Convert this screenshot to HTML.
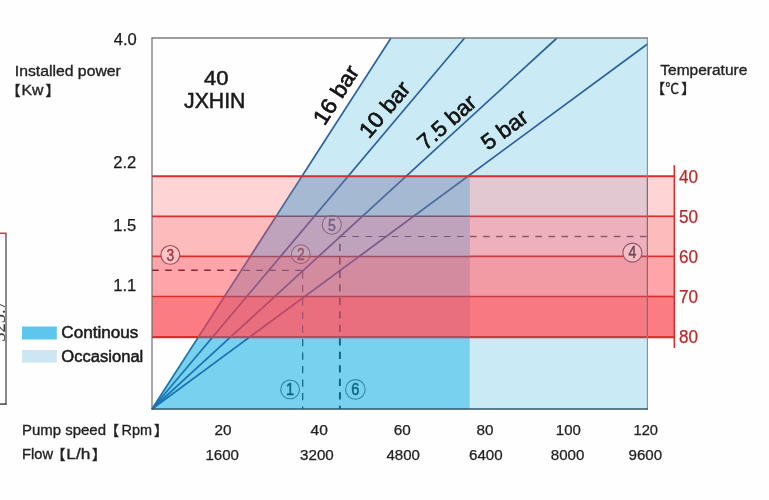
<!DOCTYPE html>
<html>
<head>
<meta charset="utf-8">
<title>Pump chart</title>
<style>
html,body{margin:0;padding:0;background:#fefefe;}
body{width:769px;height:500px;overflow:hidden;position:relative;}
svg{position:absolute;left:0;top:0;display:block;}
text{font-family:"Liberation Sans","Noto Sans CJK SC",sans-serif;}
.k{fill:#1a1a1a;stroke:#1a1a1a;stroke-width:.5;}
.ax{font-size:16.6px;fill:#1a1a1a;stroke:#1a1a1a;stroke-width:.25;}
.lb{font-size:14px;fill:#222;stroke:#222;stroke-width:.32;}
.num{font-size:14px;fill:#222;stroke:#222;stroke-width:.25;}
.bar{font-size:22px;fill:#111;stroke:#111;stroke-width:.6;}
.tmp{font-size:17.6px;fill:#b42c2c;stroke:#b42c2c;stroke-width:.25;}
.cn{font-size:16.4px;text-anchor:middle;stroke-width:.5;}
</style>
</head>
<body>
<svg width="769" height="500" viewBox="0 0 769 500">
  <rect x="0" y="0" width="769" height="500" fill="#fefefe"/>

  <defs>
    <linearGradient id="lg" gradientUnits="userSpaceOnUse" x1="0" y1="38" x2="0" y2="409">
      <stop offset="0" stop-color="#2c629c"/>
      <stop offset="0.8" stop-color="#2c5ea0"/>
      <stop offset="0.82" stop-color="#1874b0"/>
      <stop offset="1" stop-color="#1874b0"/>
    </linearGradient>
    <clipPath id="cOut"><rect x="140" y="30" width="520" height="146.3"/><rect x="140" y="337.2" width="520" height="80"/></clipPath>
    <clipPath id="cB1"><rect x="140" y="176.3" width="520" height="40"/></clipPath>
    <clipPath id="cB2"><rect x="140" y="216.3" width="520" height="40.1"/></clipPath>
    <clipPath id="cB3"><rect x="140" y="256.4" width="520" height="40.1"/></clipPath>
    <clipPath id="cB4"><rect x="140" y="296.5" width="520" height="40.7"/></clipPath>
  </defs>
  <!-- occasional (light blue) area -->
  <polygon points="152,409 391,38 647.5,38 647.5,409" fill="#caebf5"/>
  <!-- continuous (blue) area -->
  <polygon points="152,409 301.9,176.3 469.7,176.3 469.7,409" fill="#77d1ef"/>

  <!-- temperature bands -->
  <rect x="152" y="176.3" width="522.3" height="40" fill="#ff8f8f" fill-opacity="0.375"/>
  <rect x="152" y="216.3" width="522.3" height="40.1" fill="#ff7676" fill-opacity="0.49"/>
  <rect x="152" y="256.4" width="522.3" height="40.1" fill="#ff7176" fill-opacity="0.63"/>
  <rect x="152" y="296.5" width="522.3" height="41" fill="#fc6a72" fill-opacity="0.88"/>

  <!-- bands over the occasional zone -->
  <rect x="469.7" y="176.3" width="177.8" height="40" fill="#e1c8d1"/>
  <rect x="469.7" y="216.3" width="177.8" height="40.1" fill="#eeb0ba"/>
  <rect x="469.7" y="256.4" width="177.8" height="40.1" fill="#f29ba5"/>
  <rect x="469.7" y="296.5" width="177.8" height="41" fill="#f97983"/>

  <!-- bands over the continuous zone -->
  <polygon points="301.9,176.3 469.7,176.3 469.7,216.3 276.1,216.3" fill="#a5b9d3"/>
  <polygon points="276.1,216.3 469.7,216.3 469.7,256.4 250.3,256.4" fill="#bfa3bc"/>
  <polygon points="250.3,256.4 469.7,256.4 469.7,296.5 224.5,296.5" fill="#d38c9f"/>
  <polygon points="224.5,296.5 469.7,296.5 469.7,337.5 198.1,337.5" fill="#ea6f7e"/>

  <!-- pressure lines -->
  <g stroke="url(#lg)" stroke-width="1.7" fill="none" clip-path="url(#cOut)"><line x1="152" y1="409" x2="391" y2="38"/><line x1="152" y1="409" x2="464.6" y2="38"/><line x1="152" y1="409" x2="557" y2="38"/><line x1="152" y1="409" x2="647.5" y2="44"/></g>
  <g stroke="#4a6a9c" stroke-width="1.7" fill="none" clip-path="url(#cB1)"><line x1="152" y1="409" x2="391" y2="38"/><line x1="152" y1="409" x2="464.6" y2="38"/><line x1="152" y1="409" x2="557" y2="38"/><line x1="152" y1="409" x2="647.5" y2="44"/></g>
  <g stroke="#7a5a8a" stroke-width="1.7" fill="none" clip-path="url(#cB2)"><line x1="152" y1="409" x2="391" y2="38"/><line x1="152" y1="409" x2="464.6" y2="38"/><line x1="152" y1="409" x2="557" y2="38"/><line x1="152" y1="409" x2="647.5" y2="44"/></g>
  <g stroke="#8c5888" stroke-width="1.7" fill="none" clip-path="url(#cB3)"><line x1="152" y1="409" x2="391" y2="38"/><line x1="152" y1="409" x2="464.6" y2="38"/><line x1="152" y1="409" x2="557" y2="38"/><line x1="152" y1="409" x2="647.5" y2="44"/></g>
  <g stroke="#b84a68" stroke-width="1.7" fill="none" clip-path="url(#cB4)"><line x1="152" y1="409" x2="391" y2="38"/><line x1="152" y1="409" x2="464.6" y2="38"/><line x1="152" y1="409" x2="557" y2="38"/><line x1="152" y1="409" x2="647.5" y2="44"/></g>

  <!-- red lines -->
  <g fill="none" stroke="#d82e2e" stroke-width="1.7">
    <line x1="152" y1="176.3" x2="674.3" y2="176.3" stroke-width="2.1"/>
    <line x1="152" y1="216.3" x2="276.2" y2="216.3"/>
    <line x1="152" y1="256.4" x2="250.3" y2="256.4"/>
    <line x1="152" y1="296.5" x2="224.5" y2="296.5"/>
    <line x1="152" y1="337.2" x2="198.3" y2="337.2" stroke-width="2.2"/>
    <line x1="647.4" y1="216.3" x2="674.3" y2="216.3"/>
    <line x1="647.4" y1="256.4" x2="674.3" y2="256.4"/>
    <line x1="647.4" y1="296.5" x2="674.3" y2="296.5"/>
    <line x1="647.4" y1="337.2" x2="674.3" y2="337.2" stroke-width="2.2"/>
  </g>
  <g fill="none">
    <line x1="276.2" y1="216.3" x2="469.7" y2="216.3" stroke="#745878" stroke-width="1.4"/>
    <line x1="250.3" y1="256.4" x2="469.7" y2="256.4" stroke="#a04c60" stroke-width="1.5"/>
    <line x1="224.5" y1="296.5" x2="469.7" y2="296.5" stroke="#b04a5a" stroke-width="1.6"/>
    <line x1="198.3" y1="337.2" x2="469.7" y2="337.2" stroke="#b04c66" stroke-width="2.2"/>
  </g>
  <g stroke-width="1.7" fill="none" stroke="#c83c46">
    <line x1="469.7" y1="216.3" x2="647.4" y2="216.3"/>
    <line x1="469.7" y1="256.4" x2="647.4" y2="256.4"/>
    <line x1="469.7" y1="296.5" x2="647.4" y2="296.5"/>
    <line x1="469.7" y1="337.2" x2="647.4" y2="337.2" stroke-width="2.3" stroke="#c43e48"/>
  </g>
  <line x1="674.3" y1="165.2" x2="674.3" y2="348" stroke="#d62c2c" stroke-width="1.5"/>

  <!-- frame -->
  <g fill="none">
    <line x1="151.4" y1="38" x2="648" y2="38" stroke="#7c7c7c" stroke-width="1.3"/>
    <line x1="152" y1="38" x2="152" y2="409" stroke="#686868" stroke-width="1.15"/>
    <line x1="647.4" y1="38" x2="647.4" y2="409" stroke="#7a9098" stroke-width="1.1"/>
    <line x1="647.4" y1="177.3" x2="647.4" y2="336" stroke="#8a6676" stroke-width="1.1"/>
    <line x1="151.4" y1="409" x2="648" y2="409" stroke="#2e5466" stroke-width="1.7"/>
  </g>

  <!-- dashed guides -->
  <g fill="none">
    <line x1="152.2" y1="270.3" x2="241.4" y2="270.3" stroke="#802838" stroke-width="1.5" stroke-dasharray="6.6 6.4"/>
    <line x1="241.4" y1="270.3" x2="302.3" y2="270.3" stroke="#7a5678" stroke-width="1.2" stroke-dasharray="6.6 6.4" stroke-dashoffset="11.2"/>
    <line x1="302.7" y1="270.3" x2="302.7" y2="337" stroke="#96506c" stroke-width="1.1" stroke-dasharray="7.2 6.3" stroke-dashoffset="12.2"/>
    <line x1="302.7" y1="337" x2="302.7" y2="409" stroke="#0e6282" stroke-width="1.2" stroke-dasharray="7.2 6.3" stroke-dashoffset="11.4"/>
    <line x1="339.4" y1="236.5" x2="469.7" y2="236.5" stroke="#765878" stroke-width="1.2" stroke-dasharray="6.6 6.47"/>
    <line x1="470" y1="236.5" x2="647.4" y2="236.5" stroke="#8a5868" stroke-width="1.3" stroke-dasharray="6.6 6.47"/>
    <line x1="339.9" y1="236.5" x2="339.9" y2="337" stroke="#84405c" stroke-width="1.3" stroke-dasharray="7.2 6.3" stroke-dashoffset="6.2"/>
    <line x1="339.9" y1="337" x2="339.9" y2="409" stroke="#0e6282" stroke-width="1.9" stroke-dasharray="7.2 6.3" stroke-dashoffset="12.2"/>
  </g>

  <!-- circled numbers -->
  <g stroke-width="1.1">
    <circle cx="170.3" cy="254.9" r="9.4" stroke="#a84656" fill="#ffc6c8"/>
    <circle cx="300.7" cy="254.2" r="9.4" stroke="#9c6278" fill="#ffffff" fill-opacity="0.06"/>
    <circle cx="331.8" cy="224.7" r="9.5" stroke="#8a6a88" fill="#ffffff" fill-opacity="0.06"/>
    <circle cx="632.4" cy="252.6" r="9.5" stroke="#8c5668" fill="#f6bcc4"/>
    <circle cx="290.1" cy="389.4" r="9.4" stroke="#3488a6" fill="none"/>
    <circle cx="355.4" cy="389.4" r="9.8" stroke="#3488a6" fill="none"/>
  </g>
  <g class="cn">
    <text transform="translate(170.3,260.5) scale(.84,1)" fill="#ac3646" stroke="#ac3646">3</text>
    <text transform="translate(300.7,259.8) scale(.84,1)" fill="#96566c" stroke="#96566c">2</text>
    <text transform="translate(331.8,230.9) scale(.86,1)" fill="#786080" stroke="#786080">5</text>
    <text transform="translate(632.4,258.2) scale(.86,1)" fill="#6a4a60" stroke="#6a4a60">4</text>
    <text transform="translate(290.1,395.3) scale(.86,1)" font-size="17" fill="#0a6686" stroke="#0a6686">1</text>
    <text transform="translate(355.4,395.3) scale(.86,1)" font-size="17" fill="#0a6686" stroke="#0a6686">6</text>
  </g>

  <!-- line labels -->
  <text class="bar" transform="translate(324.5,126.5) rotate(-57.2)" textLength="65.5" lengthAdjust="spacingAndGlyphs">16 bar</text>
  <text class="bar" transform="translate(369,139.5) rotate(-49.8)" textLength="66" lengthAdjust="spacingAndGlyphs">10 bar</text>
  <text class="bar" transform="translate(425.5,151) rotate(-41.5)" textLength="70" lengthAdjust="spacingAndGlyphs">7.5 bar</text>
  <text class="bar" transform="translate(488,151) rotate(-36.3)" textLength="52" lengthAdjust="spacingAndGlyphs">5 bar</text>

  <!-- title -->
  <text class="k" x="204" y="85" font-size="20.5" textLength="24.5" lengthAdjust="spacingAndGlyphs">40</text>
  <text class="k" x="184" y="108" font-size="21.4" textLength="61.5" lengthAdjust="spacingAndGlyphs">JXHIN</text>

  <!-- y axis labels -->
  <g class="ax" text-anchor="end">
    <text x="136.8" y="44.8">4.0</text>
    <text x="136.3" y="168">2.2</text>
    <text x="136.3" y="231.2">1.5</text>
    <text x="136.3" y="291">1.1</text>
  </g>

  <text class="lb" x="14.8" y="76" font-size="14.5" textLength="106" lengthAdjust="spacingAndGlyphs">Installed power</text>
  <text class="lb" x="6.5" y="94.5" font-size="13.5">【</text>
  <text class="lb" x="21.5" y="95.3" font-size="14.5" textLength="22" lengthAdjust="spacingAndGlyphs">Kw</text>
  <text class="lb" x="45.5" y="94.5" font-size="13.5">】</text>

  <text class="lb" x="660.3" y="75.2" font-size="14.5" textLength="87" lengthAdjust="spacingAndGlyphs">Temperature</text>
  <text class="lb" x="651" y="92.5" font-size="13.5">【</text>
  <text class="lb" x="665.3" y="93" font-size="15">℃</text>
  <text class="lb" x="681.3" y="92.5" font-size="13.5">】</text>

  <!-- temperature scale -->
  <g class="tmp">
    <text x="679" y="183.1" textLength="19" lengthAdjust="spacingAndGlyphs">40</text>
    <text x="679" y="223" textLength="19" lengthAdjust="spacingAndGlyphs">50</text>
    <text x="679" y="263" textLength="19" lengthAdjust="spacingAndGlyphs">60</text>
    <text x="679" y="302.8" textLength="19" lengthAdjust="spacingAndGlyphs">70</text>
    <text x="679" y="342.8" textLength="19" lengthAdjust="spacingAndGlyphs">80</text>
  </g>

  <!-- legend -->
  <rect x="22" y="326.5" width="34.8" height="13" fill="#5cc6ec"/>
  <rect x="22" y="350" width="34.8" height="12.6" fill="#cde6f4"/>
  <text class="k" x="61.3" y="337.6" font-size="16" textLength="77" lengthAdjust="spacingAndGlyphs">Continous</text>
  <text class="k" x="61.3" y="362" font-size="16" textLength="82" lengthAdjust="spacingAndGlyphs">Occasional</text>

  <!-- x axis labels -->
  <text class="lb" x="22" y="435.4" font-size="13.6" textLength="84" lengthAdjust="spacingAndGlyphs">Pump speed</text>
  <text class="lb" x="105" y="435" font-size="13.5">【</text>
  <text class="lb" x="121.5" y="435.4" font-size="13.6" textLength="30.5" lengthAdjust="spacingAndGlyphs">Rpm</text>
  <text class="lb" x="154" y="435" font-size="13.5">】</text>
  <text class="lb" x="22" y="459.2" font-size="13.6" textLength="31" lengthAdjust="spacingAndGlyphs">Flow</text>
  <text class="lb" x="51.5" y="459" font-size="13.5">【</text>
  <text class="lb" x="66.3" y="459.2" font-size="13.6" textLength="24" lengthAdjust="spacingAndGlyphs">L/h</text>
  <text class="lb" x="92" y="459" font-size="13.5">】</text>
  <g class="num">
    <text x="214.5" y="435.4" textLength="17" lengthAdjust="spacingAndGlyphs">20</text>
    <text x="310.5" y="435.4" textLength="17.3" lengthAdjust="spacingAndGlyphs">40</text>
    <text x="393.7" y="435.4" textLength="17" lengthAdjust="spacingAndGlyphs">60</text>
    <text x="476.5" y="435.4" textLength="17" lengthAdjust="spacingAndGlyphs">80</text>
    <text x="555.8" y="435.4" textLength="25" lengthAdjust="spacingAndGlyphs">100</text>
    <text x="633.5" y="435.4" textLength="24.5" lengthAdjust="spacingAndGlyphs">120</text>
    <text x="205.5" y="459.5" textLength="33.5" lengthAdjust="spacingAndGlyphs">1600</text>
    <text x="300" y="459.5" textLength="33.8" lengthAdjust="spacingAndGlyphs">3200</text>
    <text x="386.5" y="459.5" textLength="33.5" lengthAdjust="spacingAndGlyphs">4800</text>
    <text x="469" y="459.5" textLength="33.7" lengthAdjust="spacingAndGlyphs">6400</text>
    <text x="550.8" y="459.5" textLength="33.6" lengthAdjust="spacingAndGlyphs">8000</text>
    <text x="628.5" y="459.5" textLength="33.6" lengthAdjust="spacingAndGlyphs">9600</text>
  </g>

  <!-- left-edge artifact -->
  <line x1="0" y1="233.3" x2="6.7" y2="233.3" stroke="#d23e4c" stroke-width="1.6"/>
  <line x1="6" y1="234" x2="6" y2="404.8" stroke="#4a4a4a" stroke-width="1.3"/>
  <line x1="0" y1="404.1" x2="6.6" y2="404.1" stroke="#444" stroke-width="1.5"/>
  <text transform="translate(4.6,341.8) rotate(-90)" style="font-family:'Liberation Serif',serif" font-size="18.5" fill="#3a3a3a">325.7</text>
</svg>
</body>
</html>
